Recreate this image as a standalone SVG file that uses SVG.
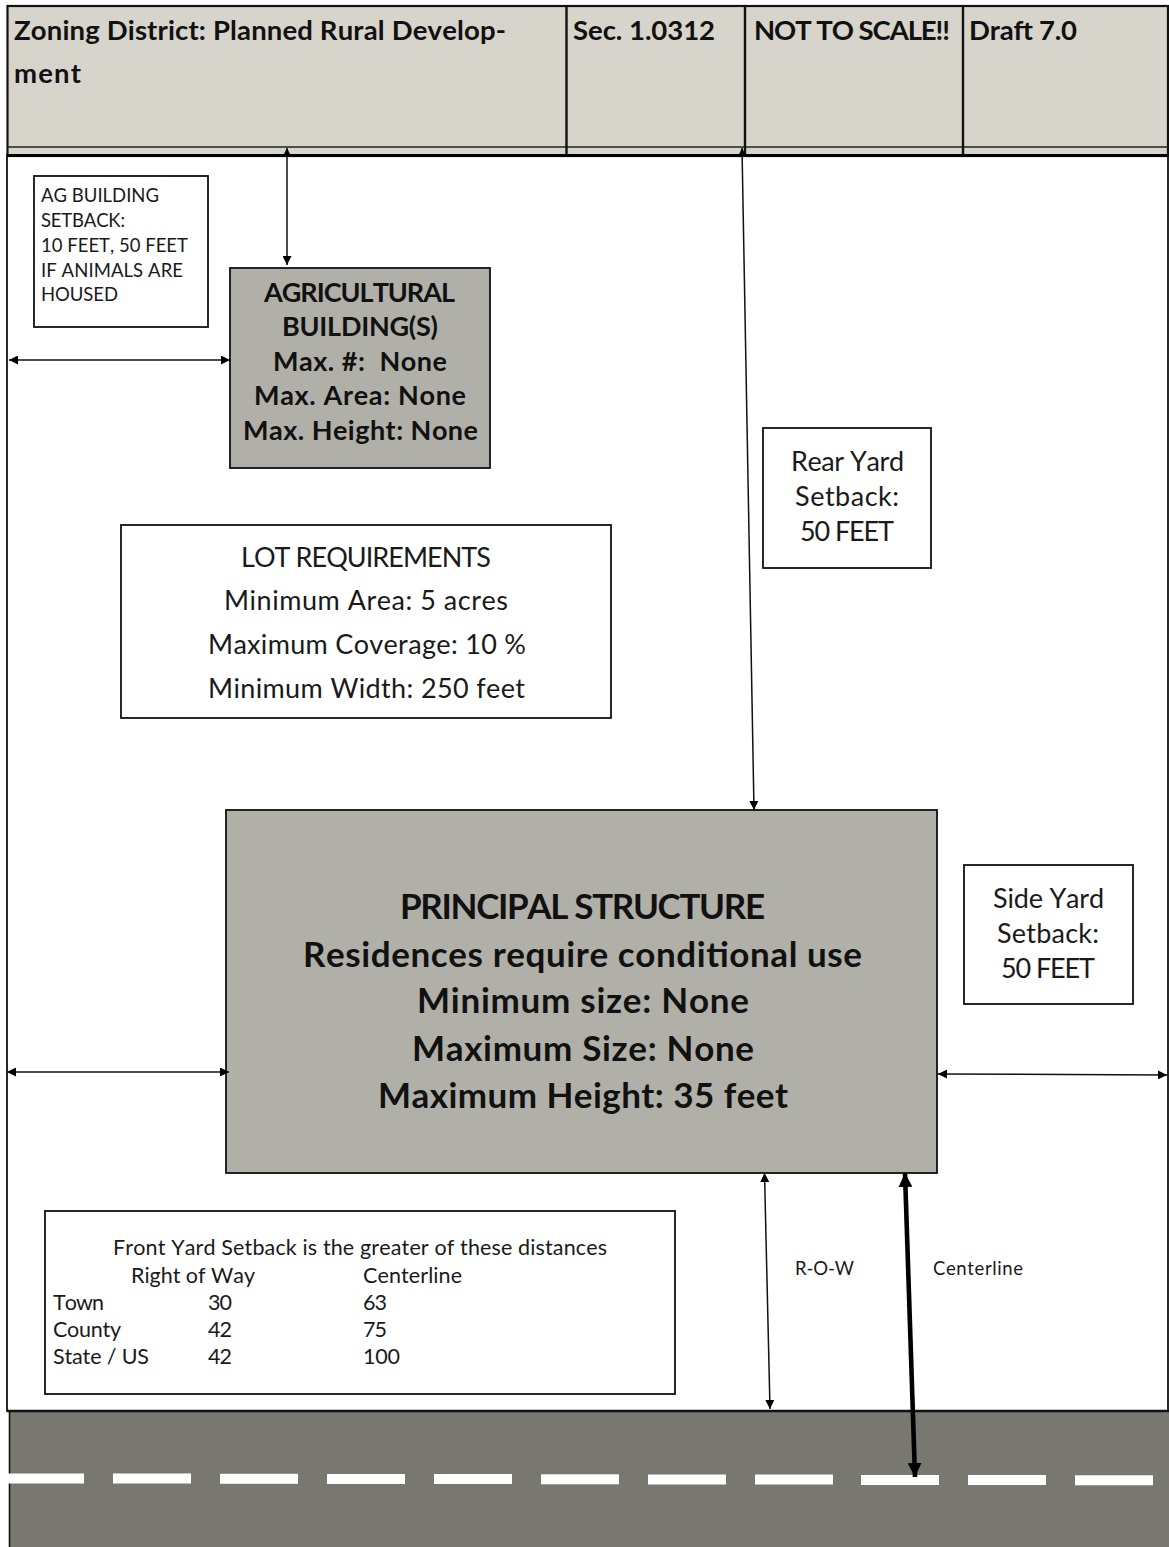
<svg xmlns="http://www.w3.org/2000/svg" width="1169" height="1547" viewBox="0 0 1169 1547">
<style>
text{font-family:Lato,"Liberation Sans",sans-serif;fill:#1a1a1a;font-kerning:none}
.hd{font-size:27.5px;font-weight:700;fill:#111}
.b{font-weight:700;text-anchor:middle;fill:#111}
.ag{font-size:27px}
.ps{font-size:35px}
.c{text-anchor:middle}
.m{font-size:27px}
.s{font-size:18.5px}
.t{font-size:21.5px}
.box{fill:#fff;stroke:#111;stroke-width:1.8}
.gr{fill:#b0b0a8;stroke:#111;stroke-width:1.8}
.cn{fill:none;stroke:#111;stroke-width:1.5;marker-start:url(#a);marker-end:url(#a)}
.thick{fill:none;stroke:#000;stroke-width:4.6}
.dash{fill:#fff}
</style>
<defs>
<marker id="a" viewBox="0 0 10 10" refX="10" refY="5" markerWidth="9" markerHeight="9" markerUnits="userSpaceOnUse" orient="auto-start-reverse"><path d="M0 0L10 5L0 10Z" fill="#000"/></marker>
<marker id="b" viewBox="0 0 10 10" refX="10" refY="5" markerWidth="14" markerHeight="14" markerUnits="userSpaceOnUse" orient="auto-start-reverse"><path d="M0 0L10 5L0 10Z" fill="#000"/></marker>
</defs>
<rect width="1169" height="1547" fill="#fff"/>
<g id="lot"><rect x="7" y="155" width="1161" height="1256" fill="#fff" stroke="#111" stroke-width="1.8"/></g>
<g id="road">
<rect x="10" y="1411" width="1159" height="136" fill="#787770"/>
<line x1="9.500" y1="1411" x2="9.500" y2="1547" stroke="#111" stroke-width="1.600"/>
<line x1="7" y1="1411" x2="1169" y2="1411" stroke="#111" stroke-width="2.600"/>
<g class="dash">
<rect x="8" y="1473.500" width="76" height="10"/><rect x="113" y="1473.500" width="78" height="10"/><rect x="220" y="1473.800" width="78" height="10"/><rect x="327" y="1474" width="78" height="10"/><rect x="434" y="1474" width="78" height="10"/><rect x="541" y="1474.300" width="78" height="10"/><rect x="648" y="1474.500" width="78" height="10"/><rect x="755" y="1474.500" width="78" height="10"/><rect x="861" y="1475" width="78" height="10"/><rect x="968" y="1475" width="78" height="10"/><rect x="1075" y="1475.300" width="78" height="10"/>
</g>
</g>
<g id="header">
<rect x="7.500" y="6" width="1160.500" height="150" fill="#d6d4cb" stroke="#111" stroke-width="2.200"/>
<line x1="7" y1="147" x2="1168" y2="147" stroke="#222" stroke-width="1.600"/>
<line x1="7" y1="155.500" x2="1168" y2="155.500" stroke="#000" stroke-width="3"/>
<line x1="566.500" y1="6" x2="566.500" y2="155" stroke="#111" stroke-width="2.400"/>
<line x1="745" y1="6" x2="745" y2="155" stroke="#111" stroke-width="2.400"/>
<line x1="963" y1="6" x2="963" y2="155" stroke="#111" stroke-width="2.400"/>
<text class="hd" x="14" y="40" textLength="492">Zoning District: Planned Rural Develop-</text>
<text class="hd" x="14" y="83" textLength="67">ment</text>
<text class="hd" x="573" y="40" textLength="142">Sec. 1.0312</text>
<text class="hd" x="754" y="40" textLength="196">NOT TO SCALE!!</text>
<text class="hd" x="969" y="40" textLength="108">Draft 7.0</text>
</g>
<g id="ag-setback">
<rect class="box" x="34" y="176" width="174" height="151"/>
<text class="s" x="41" y="202" textLength="118">AG BUILDING</text>
<text class="s" x="41" y="227" textLength="84">SETBACK:</text>
<text class="s" x="41" y="252" textLength="147">10 FEET, 50 FEET</text>
<text class="s" x="41" y="277" textLength="142">IF ANIMALS ARE</text>
<text class="s" x="41" y="301" textLength="77">HOUSED</text>
</g>
<g id="ag-building">
<rect class="gr" x="230" y="268" width="260" height="200"/>
<text class="b ag" x="359.500" y="302" textLength="191">AGRICULTURAL</text>
<text class="b ag" x="360" y="336" textLength="156">BUILDING(S)</text>
<text class="b ag" x="360" y="371" textLength="174" xml:space="preserve">Max. #:  None</text>
<text class="b ag" x="360" y="405" textLength="212">Max. Area: None</text>
<text class="b ag" x="360.500" y="440" textLength="235">Max. Height: None</text>
</g>
<g id="rear-yard">
<rect class="box" x="763" y="428" width="168" height="140"/>
<text class="c m" x="847.500" y="471" textLength="113">Rear Yard</text>
<text class="c m" x="847" y="506" textLength="104">Setback:</text>
<text class="c m" x="847" y="541" textLength="94">50 FEET</text>
</g>
<g id="lot-req">
<rect class="box" x="121" y="525" width="490" height="193"/>
<text class="c m" x="366" y="567" textLength="250">LOT REQUIREMENTS</text>
<text class="c m" x="366" y="610" textLength="284">Minimum Area: 5 acres</text>
<text class="c m" x="367" y="654" textLength="318">Maximum Coverage: 10 %</text>
<text class="c m" x="366.500" y="698" textLength="317">Minimum Width: 250 feet</text>
</g>
<g id="principal">
<rect class="gr" x="226" y="810" width="711" height="363"/>
<text class="b ps" x="582.500" y="919" textLength="365">PRINCIPAL STRUCTURE</text>
<text class="b ps" x="582.500" y="967" textLength="559">Residences require conditional use</text>
<text class="b ps" x="583" y="1013" textLength="332">Minimum size: None</text>
<text class="b ps" x="583" y="1061" textLength="342">Maximum Size: None</text>
<text class="b ps" x="583" y="1108" textLength="410">Maximum Height: 35 feet</text>
</g>
<g id="side-yard">
<rect class="box" x="964" y="865" width="169" height="139"/>
<text class="c m" x="1048.500" y="908" textLength="111">Side Yard</text>
<text class="c m" x="1048" y="943" textLength="102">Setback:</text>
<text class="c m" x="1048" y="978" textLength="94">50 FEET</text>
</g>
<g id="front-yard">
<rect class="box" x="45" y="1211" width="630" height="183"/>
<text class="c t" x="360" y="1255" textLength="494">Front Yard Setback is the greater of these distances</text>
<text class="t" x="131" y="1283" textLength="124">Right of Way</text><text class="t" x="363" y="1283" textLength="99">Centerline</text>
<text class="t" x="53" y="1310" textLength="51">Town</text><text class="t" x="208" y="1310" textLength="24">30</text><text class="t" x="363" y="1310" textLength="24">63</text>
<text class="t" x="53" y="1337" textLength="68">County</text><text class="t" x="208" y="1337" textLength="24">42</text><text class="t" x="363" y="1337" textLength="24">75</text>
<text class="t" x="53" y="1364" textLength="96">State / US</text><text class="t" x="208" y="1364" textLength="24">42</text><text class="t" x="363" y="1364" textLength="37">100</text>
</g>
<g id="labels">
<text class="s" x="795" y="1275" textLength="59">R-O-W</text>
<text class="s" x="933" y="1275" textLength="90">Centerline</text>
</g>
<g id="connectors">
<line class="cn" x1="287" y1="148" x2="287" y2="265"/>
<line class="cn" x1="742" y1="148" x2="754" y2="810"/>
<line class="cn" x1="9" y1="360" x2="230" y2="360"/>
<line class="cn" x1="7" y1="1072" x2="229" y2="1072"/>
<line class="cn" x1="938" y1="1074" x2="1167" y2="1075"/>
<line class="cn" x1="764.500" y1="1173" x2="770" y2="1409"/>
<line class="thick" style="marker-start:url(#b);marker-end:url(#b)" x1="905" y1="1173" x2="915" y2="1477"/>
</g>
</svg>
